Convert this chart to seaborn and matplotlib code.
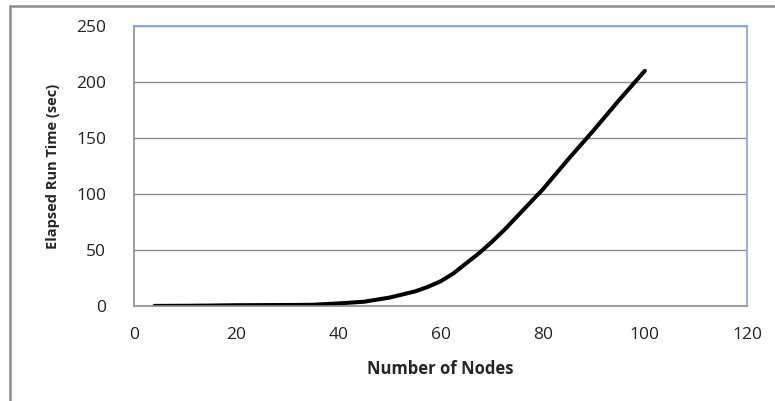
import matplotlib
matplotlib.use("Agg")
import matplotlib.pyplot as plt
from matplotlib.lines import Line2D
import pandas as pd
import seaborn as sns

nodes = [4, 10, 15, 20, 25, 30, 35, 40, 45, 50, 55, 57.5, 60, 62.5, 65, 67.5, 70, 72.5,
         75, 80, 85, 90, 95, 100]
run_time = [0.1, 0.2, 0.4, 0.7, 0.8, 0.9, 1.1, 2.3, 3.8, 7.5, 13, 17, 22, 29, 38, 47, 57, 68,
            80, 104, 131, 157, 184, 210]
x_ticks = [0, 20, 40, 60, 80, 100, 120]
y_ticks = [0, 50, 100, 150, 200, 250]

sns.set_style("white")
plt.rcParams["font.family"] = ["Open Sans", "DejaVu Sans"]

df = pd.DataFrame({"nodes": nodes, "time": run_time})

fig = plt.figure(figsize=(7.75, 4.01), dpi=100)
ax = fig.add_axes([134 / 775, 1 - 306 / 401, (747 - 134) / 775, (306 - 26) / 401])

sns.lineplot(data=df, x="nodes", y="time", ax=ax, color="black", linewidth=2.9,
             solid_capstyle="round", solid_joinstyle="round")

ax.set_xlim(0, 120)
ax.set_ylim(0, 250)
ax.set_xticks(x_ticks)
ax.set_yticks(y_ticks)
ax.yaxis.grid(True, color="#8c8c8c", linewidth=1)
ax.set_axisbelow(True)

ax.tick_params(axis="x", direction="out", length=7, width=1, color="#8c8c8c",
               labelsize=12.5, labelcolor="#222222", pad=8)
ax.tick_params(axis="y", length=0, labelsize=12.5, labelcolor="#222222", pad=20)

for side in ["left", "bottom"]:
    ax.spines[side].set_color("#8c8c8c")
    ax.spines[side].set_linewidth(1.2)
for side in ["top", "right"]:
    ax.spines[side].set_color("#7ea4d8")
    ax.spines[side].set_linewidth(1.2)

ax.set_xlabel("Number of Nodes", fontsize=12, fontweight="bold", labelpad=12)
ax.set_ylabel("Elapsed Run Time (sec)", fontsize=10.5, fontweight="bold", labelpad=12)

# outer chart frame (cropped at right and bottom)
fig.add_artist(Line2D([10 / 775, 10 / 775], [0, 1 - 6 / 401], color="#8c8c8c", linewidth=1.8))
fig.add_artist(Line2D([10 / 775, 1], [1 - 6 / 401, 1 - 6 / 401], color="#8c8c8c", linewidth=1.8))

fig.savefig("out.png", dpi=100)
